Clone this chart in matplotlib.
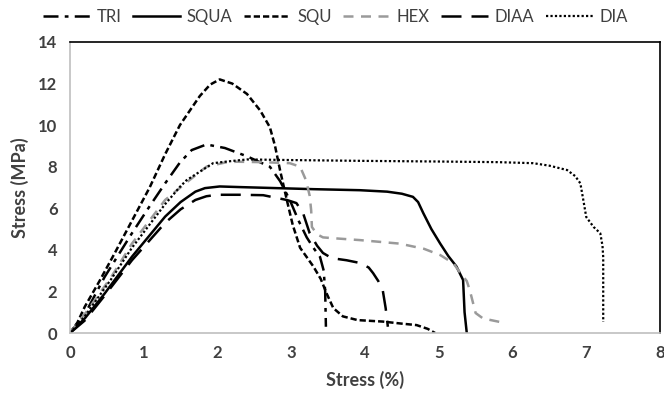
import matplotlib
matplotlib.use("Agg")
import matplotlib.pyplot as plt

plt.rcParams['font.family'] = ['Lato', 'DejaVu Sans']

tri_x = [0, 0.2, 0.47, 0.84, 1.08, 1.29, 1.49, 1.65, 1.85, 2.1, 2.4, 2.71, 2.85, 2.98, 3.1, 3.21, 3.3, 3.39, 3.44, 3.46, 3.47]
tri_y = [0, 0.9, 2.7, 4.8, 6.1, 7.2, 8.2, 8.8, 9.07, 8.9, 8.5, 8.0, 7.3, 6.4, 5.4, 4.6, 4.1, 3.66, 3.0, 2.0, 0.3]

squa_x = [0, 0.2, 0.47, 0.84, 1.29, 1.5, 1.7, 1.83, 2.03, 2.3, 3.0, 3.3, 3.93, 4.3, 4.5, 4.65, 4.72, 4.79, 4.9, 5.02, 5.13, 5.24, 5.33, 5.35, 5.38]
squa_y = [0, 0.7, 1.9, 3.67, 5.6, 6.3, 6.8, 6.97, 7.05, 7.02, 6.95, 6.92, 6.87, 6.8, 6.7, 6.55, 6.3, 5.77, 5.0, 4.3, 3.7, 3.2, 2.55, 1.0, 0]

squ_x = [0, 0.1, 0.2, 0.4, 0.6, 0.84, 1.08, 1.29, 1.49, 1.76, 1.9, 2.03, 2.2, 2.4, 2.58, 2.71, 2.78, 2.85, 2.94, 3.02, 3.12, 3.22, 3.3, 3.4, 3.48, 3.57, 3.7, 3.9, 4.24, 4.5, 4.7, 4.85, 4.95]
squ_y = [0, 0.5, 1.26, 2.5, 3.8, 5.4, 7.0, 8.6, 10.0, 11.4, 11.95, 12.2, 12.0, 11.5, 10.7, 9.9, 9.0, 7.8, 6.4, 5.2, 4.1, 3.6, 3.2, 2.6, 1.9, 1.2, 0.8, 0.62, 0.55, 0.45, 0.38, 0.2, 0]

hex_x = [0, 0.2, 0.56, 0.84, 1.29, 1.6, 1.85, 2.1, 2.26, 2.6, 2.98, 3.12, 3.2, 3.25, 3.27, 3.28, 3.35, 3.43, 3.57, 3.93, 4.47, 4.8, 5.02, 5.2, 5.29, 5.38, 5.42, 5.5, 5.6, 5.83]
hex_y = [0, 0.9, 2.7, 4.3, 6.4, 7.3, 8.0, 8.2, 8.24, 8.22, 8.17, 8.0, 7.35, 6.6, 5.9, 5.1, 4.75, 4.6, 4.56, 4.47, 4.3, 4.05, 3.75, 3.35, 2.9, 2.5, 2.07, 0.96, 0.7, 0.53]

diaa_x = [0, 0.2, 0.47, 0.84, 1.29, 1.5, 1.7, 1.85, 2.0, 2.3, 2.62, 2.94, 3.07, 3.16, 3.25, 3.35, 3.43, 3.55, 3.75, 3.93, 4.05, 4.11, 4.18, 4.24, 4.28, 4.31]
diaa_y = [0, 0.6, 1.8, 3.5, 5.3, 5.95, 6.4, 6.58, 6.65, 6.65, 6.63, 6.4, 6.25, 5.77, 4.8, 4.2, 3.85, 3.6, 3.5, 3.37, 3.15, 2.88, 2.5, 2.07, 1.2, 0.3]

dia_x = [0, 0.2, 0.56, 0.84, 1.29, 1.49, 1.58, 1.94, 2.13, 2.4, 3.0, 4.0, 5.0, 5.8, 6.28, 6.5, 6.74, 6.85, 6.92, 6.96, 7.0, 7.1, 7.19, 7.22, 7.23, 7.23]
dia_y = [0, 0.8, 2.6, 4.1, 6.2, 7.03, 7.35, 8.17, 8.25, 8.35, 8.32, 8.28, 8.25, 8.22, 8.17, 8.05, 7.84, 7.55, 7.2, 6.4, 5.58, 5.1, 4.8, 4.2, 3.65, 0.53]

fig = plt.figure(figsize=(6.64, 3.99), dpi=100)
ax = fig.add_axes([70/664, 1 - 333/399, 590/664, 291/399])

ax.plot(tri_x, tri_y, color='black', lw=1.8, ls=(0, (6, 2.5, 1.5, 2.5)), label='TRI')
ax.plot(squa_x, squa_y, color='black', lw=1.8, ls='-', label='SQUA')
ax.plot(squ_x, squ_y, color='black', lw=1.8, ls=(0, (2.5, 1.2)), label='SQU')
ax.plot(hex_x, hex_y, color='#9a9a9a', lw=1.8, ls=(0, (4, 3)), label='HEX')
ax.plot(diaa_x, diaa_y, color='black', lw=1.8, ls=(0, (8, 4)), label='DIAA')
ax.plot(dia_x, dia_y, color='black', lw=1.6, ls=(0, (1, 1)), label='DIA')

ax.set_xlim(0, 8)
ax.set_ylim(0, 14)
ax.set_xticks(range(0, 9))
ax.set_yticks(range(0, 15, 2))
ax.tick_params(length=0, labelsize=12, labelcolor='#404040', pad=9)
for lab in ax.get_xticklabels() + ax.get_yticklabels():
    lab.set_fontweight('bold')

ax.spines['left'].set_color('#bfbfbf')
ax.spines['bottom'].set_color('#bfbfbf')
ax.spines['top'].set_color('black')
ax.spines['right'].set_color('black')
for s in ax.spines.values():
    s.set_linewidth(1.2)

ax.set_xlabel('Stress (%)', fontsize=13, fontweight='bold', color='#404040', labelpad=7)
ax.set_ylabel('Stress (MPa)', fontsize=13, fontweight='bold', color='#404040', labelpad=7)

fig.legend(loc='upper center', bbox_to_anchor=(0.505, 1.015), ncol=6, frameon=False,
           fontsize=12, handlelength=2.8, handletextpad=0.4, columnspacing=0.7,
           labelcolor='#404040')

fig.savefig('out.png', dpi=100)
